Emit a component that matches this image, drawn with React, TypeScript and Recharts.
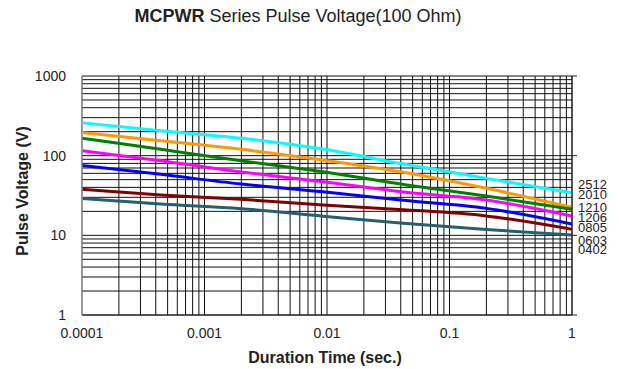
import React from 'react';
import { LineChart, Line, XAxis, YAxis, CartesianGrid } from 'recharts';

const durations = [0.0001, 0.00044, 0.002, 0.0093, 0.042, 0.2, 1];
const v2512 = [259, 205, 165, 121, 78.5, 51.9, 34.2];
const v2010 = [196, 154, 120, 88, 61.9, 38.9, 22.5];
const v1210 = [166, 120, 86.3, 62.8, 43.4, 31.1, 21.2];
const v1206 = [115, 86.3, 62.3, 47.1, 34.9, 27.7, 17.5];
const v0805 = [75.5, 58.3, 44, 35.2, 27.5, 21.8, 13.9];
const v0603 = [37.8, 32.1, 28.3, 24, 21, 17.5, 11.9];
const v0402 = [29.1, 24.7, 21.6, 17.4, 14.2, 11.8, 10.1];

const seriesNames = ['2512', '2010', '1210', '1206', '0805', '0603', '0402'];
const seriesValues = [v2512, v2010, v1210, v1206, v0805, v0603, v0402];
const seriesColors = ['#00ffff', '#ff9900', '#008000', '#ff00ff', '#0000ff', '#800000', '#25606e'];
const labelDy = [-8, -13, -2, 2, 4, 11, 15];

const xDecades = [0.0001, 0.001, 0.01, 0.1, 1];
const yDecades = [1, 10, 100, 1000];

const minorTicks = (decades: number[]) => {
  const out: number[] = [];
  for (let i = 0; i < decades.length; i++) {
    out.push(decades[i]);
    if (i < decades.length - 1) {
      for (let m = 2; m <= 9; m++) out.push(Number((decades[i] * m).toPrecision(6)));
    }
  }
  return out;
};
const xTicks = minorTicks(xDecades);
const yTicks = minorTicks(yDecades);

const data = durations.map((t, i) => {
  const row: Record<string, number> = { t };
  seriesNames.forEach((n, k) => {
    row['s' + n] = seriesValues[k][i];
  });
  return row;
});

const FONT = '"Liberation Sans", Arial, sans-serif';

export default function App() {
  return (
    <div style={{ position: 'relative', width: 611, height: 361, fontFamily: FONT }}>
      <div style={{ position: 'absolute', left: 0, top: -2, width: 580, height: 20, lineHeight: '20px', textAlign: 'center', fontSize: 18, color: '#222' }}>
        <span style={{ fontWeight: 'bold' }}>MCPWR</span> Series Pulse Voltage(100 Ohm)
      </div>
      <LineChart width={611} height={361} data={data} margin={{ top: 68, right: 37, bottom: 0, left: 0 }}>
        <CartesianGrid yAxisId="l" stroke="#111" strokeWidth={1} />
        <XAxis
          dataKey="t"
          type="number"
          scale="log"
          domain={[0.0001, 1]}
          ticks={xTicks}
          allowDataOverflow
          height={54}
          tickLine={false}
          tickSize={11}
          tickMargin={2}
          axisLine={{ stroke: '#222' }}
          tick={{ fontSize: 14, fill: '#222', fontFamily: FONT }}
          tickFormatter={(v: number) => (xDecades.some((d) => Math.abs(d - v) / d < 1e-6) ? String(v) : '')}
          interval={0}
        />
        <YAxis
          yAxisId="l"
          type="number"
          scale="log"
          domain={[1, 1000]}
          ticks={yTicks}
          allowDataOverflow
          width={74}
          tickLine={false}
          tickSize={14}
          tickMargin={2}
          axisLine={{ stroke: '#aaa' }}
          tick={{ fontSize: 14, fill: '#222', fontFamily: FONT }}
          tickFormatter={(v: number) => (yDecades.includes(v) ? String(v) : '')}
          interval={0}
        />
        <YAxis
          yAxisId="r"
          orientation="right"
          type="number"
          scale="log"
          domain={[1, 1000]}
          ticks={yDecades}
          allowDataOverflow
          width={10}
          tickSize={5}
          tickLine={{ stroke: '#222' }}
          axisLine={{ stroke: '#222' }}
          tickFormatter={() => ''}
          interval={0}
        />
        {seriesNames.map((n, k) => (
          <Line
            key={n}
            yAxisId="l"
            dataKey={'s' + n}
            type="monotone"
            stroke={seriesColors[k]}
            strokeWidth={3}
            dot={false}
            isAnimationActive={false}
            label={(p: any) =>
              p.index === durations.length - 1 ? (
                <text
                  key={'lab' + n}
                  x={p.x + 6}
                  y={p.y + labelDy[k]}
                  dominantBaseline="central"
                  fontSize={13}
                  fill="#222"
                  fontFamily={FONT}
                >
                  {n}
                </text>
              ) : (
                <g key={'lab' + n + p.index} />
              )
            }
          />
        ))}
      </LineChart>
      <div style={{ position: 'absolute', left: -85, top: 173, width: 200, height: 20, lineHeight: '20px', textAlign: 'center', fontSize: 16, fontWeight: 'bold', color: '#222', transform: 'rotate(-90deg)' }}>
        Pulse Voltage (V)
      </div>
      <div style={{ position: 'absolute', left: 217, top: 340, width: 200, height: 20, lineHeight: '20px', textAlign: 'center', fontSize: 16, fontWeight: 'bold', color: '#222' }}>
        Duration Time (sec.)
      </div>
    </div>
  );
}
